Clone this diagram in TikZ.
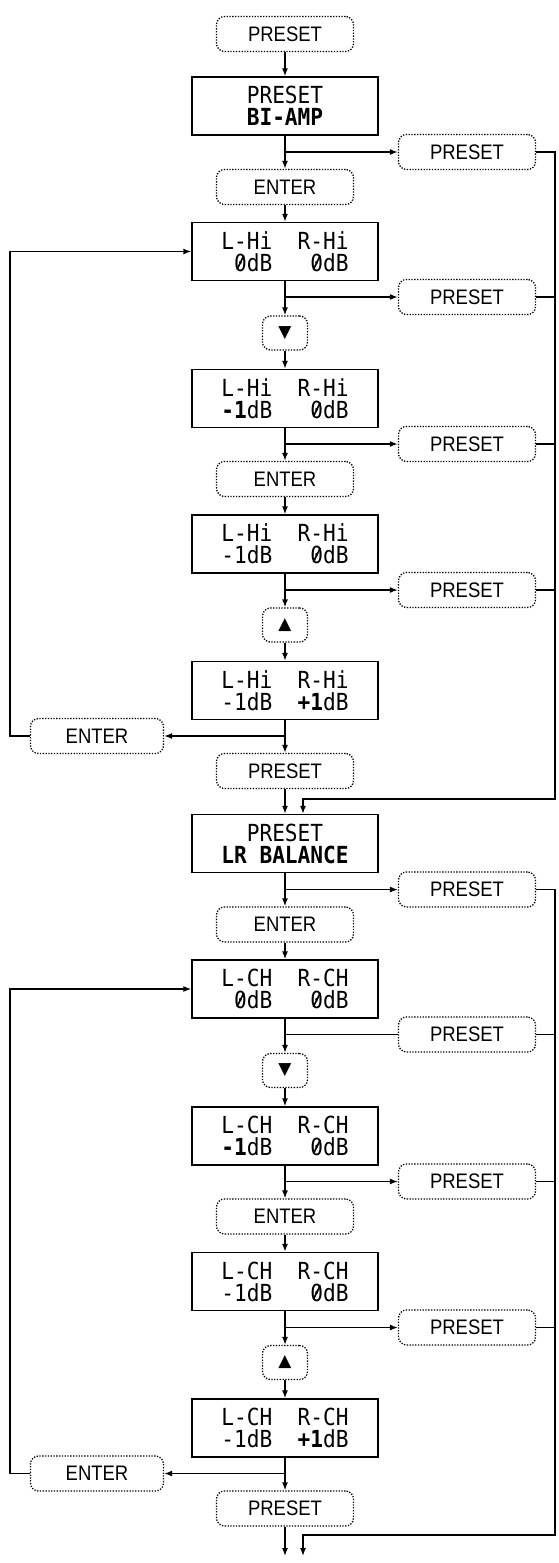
\documentclass[tikz,border=0pt]{standalone}
\usepackage{graphicx}
\usepackage{fontspec}
\setmainfont{Liberation Sans}
\newfontfamily\keyfont[FakeStretch=0.88]{Liberation Sans}
\newfontfamily\lcdfont[FakeStretch=0.9]{DejaVu Sans Mono}
\newfontfamily\symfont{DejaVu Sans}
\usetikzlibrary{arrows.meta}

% slashed zero of the display
\newcommand{\slz}{\rlap{0}\makebox[\fontcharwd\font`0][c]{\raisebox{0.06em}{\rotatebox{64}{\rule{0.66em}{0.07em}}}}}

\tikzset{
  key/.style={draw, line width=1.3pt, dash pattern=on 1.3pt off 1.5pt,
    rounded corners=8pt, minimum width=137pt, minimum height=35pt,
    inner sep=0pt, font=\keyfont\fontsize{21}{21}\selectfont},
  tinykey/.style={key, minimum width=45pt, minimum height=34pt,
    font=\symfont\fontsize{17}{17}\selectfont},
  lcd/.style={draw, line width=1.4pt, minimum width=186pt, minimum height=58pt,
    inner sep=0pt, align=center, font=\lcdfont\fontsize{23.5}{22}\selectfont},
  flow/.style={line width=1.3pt, -{Latex[length=8pt,width=6pt]}},
  wire/.style={line width=1.3pt},
}

\begin{document}
\begin{tikzpicture}[x=1pt,y=-1pt]
\useasboundingbox (0,0) rectangle (558,1563);

% BI-AMP part
\node[key] (p0) at (285,34) {PRESET};
\node[lcd] (b0) at (285,106) {PRESET\\\textbf{BI-AMP}};
\node[key] (r1) at (467,152) {PRESET};
\node[key] (e1) at (285,187) {ENTER};
\node[lcd] (b1) at (285,251.5) {L-Hi~~R-Hi\\~\slz dB~~~\slz dB};
\node[key] (r2) at (467,297) {PRESET};
\node[tinykey] (d1) at (285,333) {▼};
\node[lcd] (b2) at (285,398.5) {L-Hi~~R-Hi\\\textbf{-1}dB~~~\slz dB};
\node[key] (r3) at (467,444) {PRESET};
\node[key] (e2) at (285,479) {ENTER};
\node[lcd] (b3) at (285,544) {L-Hi~~R-Hi\\-1dB~~~\slz dB};
\node[key] (r4) at (467,590) {PRESET};
\node[tinykey] (u1) at (285,625) {▲};
\node[lcd] (b4) at (285,690.5) {L-Hi~~R-Hi\\-1dB~~\textbf{+1}dB};
\node[key, minimum width=133pt] (n1) at (97,736) {ENTER};
\node[key] (p1) at (285,771) {PRESET};
\coordinate (c1) at (555,799);

% LR BALANCE part
\node[lcd] (b5) at (285,843.5) {PRESET\\\textbf{LR BALANCE}};
\node[key] (r5) at (467,889.5) {PRESET};
\node[key] (e3) at (285,924.5) {ENTER};
\node[lcd] (b6) at (285,989) {L-CH~~R-CH\\~\slz dB~~~\slz dB};
\node[key] (r6) at (467,1034.5) {PRESET};
\node[tinykey] (d2) at (285,1070.5) {▼};
\node[lcd] (b7) at (285,1136) {L-CH~~R-CH\\\textbf{-1}dB~~~\slz dB};
\node[key] (r7) at (467,1181.5) {PRESET};
\node[key] (e4) at (285,1216.5) {ENTER};
\node[lcd] (b8) at (285,1281.5) {L-CH~~R-CH\\-1dB~~~\slz dB};
\node[key] (r8) at (467,1327.5) {PRESET};
\node[tinykey] (u2) at (285,1362.5) {▲};
\node[lcd] (b9) at (285,1428) {L-CH~~R-CH\\-1dB~~\textbf{+1}dB};
\node[key, minimum width=133pt] (n2) at (97,1473.5) {ENTER};
\node[key] (p2) at (285,1508.5) {PRESET};
\coordinate (c2) at (555,1535);
\coordinate (o1) at (285,1556);
\coordinate (o2) at (303,1556);

% down the middle
\draw[flow] (p0) -- (b0);
\draw[flow] (b0) -- (e1);
\draw[flow] (e1) -- (b1);
\draw[flow] (b1) -- (d1);
\draw[flow] (d1) -- (b2);
\draw[flow] (b2) -- (e2);
\draw[flow] (e2) -- (b3);
\draw[flow] (b3) -- (u1);
\draw[flow] (u1) -- (b4);
\draw[flow] (b4) -- (p1);
\draw[flow] (p1) -- (b5);
\draw[flow] (b5) -- (e3);
\draw[flow] (e3) -- (b6);
\draw[flow] (b6) -- (d2);
\draw[flow] (d2) -- (b7);
\draw[flow] (b7) -- (e4);
\draw[flow] (e4) -- (b8);
\draw[flow] (b8) -- (u2);
\draw[flow] (u2) -- (b9);
\draw[flow] (b9) -- (p2);
\draw[flow] (p2) -- (o1);

% branches to the right
\draw[flow] (b0.south |- r1) -- (r1);
\draw[flow] (b1.south |- r2) -- (r2);
\draw[flow] (b2.south |- r3) -- (r3);
\draw[flow] (b3.south |- r4) -- (r4);
\draw[flow] (b5.south |- r5) -- (r5);
\draw[wire] (b6.south |- r6) -- (r6);
\draw[flow] (b7.south |- r7) -- (r7);
\draw[flow] (b8.south |- r8) -- (r8);

% right side back in
\draw[flow] (r1.east) -| (c1) -| ([xshift=18pt]b5.north);
\draw[wire] (r2.east) -- (r2.east -| c1);
\draw[wire] (r3.east) -- (r3.east -| c1);
\draw[wire] (r4.east) -- (r4.east -| c1);
\draw[flow] (r5.east) -| (c2) -| (o2);
\draw[wire] (r6.east) -- (r6.east -| c2);
\draw[wire] (r7.east) -- (r7.east -| c2);
\draw[wire] (r8.east) -- (r8.east -| c2);

% ENTER loops on the left
\draw[flow] (b4.south |- n1) -- (n1);
\draw[flow] (n1.west) -- ++(-20,0) |- (b1.west);
\draw[flow] (b9.south |- n2) -- (n2);
\draw[flow] (n2.west) -- ++(-20,0) |- (b6.west);

\end{tikzpicture}
\end{document}
